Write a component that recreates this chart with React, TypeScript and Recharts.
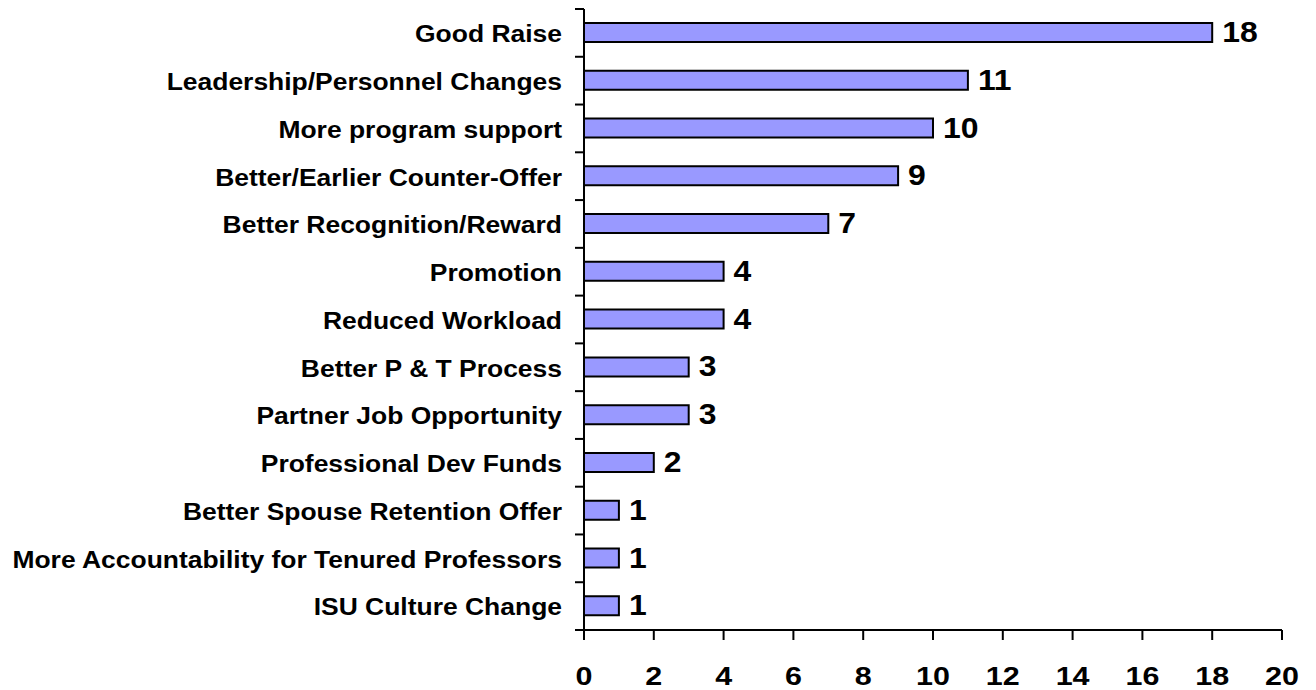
import { BarChart, Bar, XAxis, YAxis, LabelList } from "recharts";

const categories = [
  "Good Raise",
  "Leadership/Personnel Changes",
  "More program support",
  "Better/Earlier Counter-Offer",
  "Better Recognition/Reward",
  "Promotion",
  "Reduced Workload",
  "Better P & T Process",
  "Partner Job Opportunity",
  "Professional Dev Funds",
  "Better Spouse Retention Offer",
  "More Accountability for Tenured Professors",
  "ISU Culture Change",
];

const counts = [18, 11, 10, 9, 7, 4, 4, 3, 3, 2, 1, 1, 1];

const xTicks = [0, 2, 4, 6, 8, 10, 12, 14, 16, 18, 20];

const data = categories.map((name, i) => ({ name, count: counts[i] }));

const W = 1316;
const H = 690;
const M = { top: 9, right: 34, left: 0, bottom: 0 };
const AXIS_W = 584;
const X_AXIS_H = 60;
const PLOT_BOTTOM = H - M.bottom - X_AXIS_H;
const BAND = (PLOT_BOTTOM - M.top) / categories.length;
const FONT = "Arial, 'Liberation Sans', Helvetica, sans-serif";

// the source picture is a little wider than tall, so text gets a small horizontal stretch
const WideText = ({ x, y, size, sx, anchor, dy, children }: any) => (
  <text
    transform={`translate(${x},${y}) scale(${sx},1)`}
    dy={dy}
    textAnchor={anchor}
    fontFamily={FONT}
    fontWeight="bold"
    fontSize={size}
    fill="#000"
  >
    {children}
  </text>
);

const CategoryTick = (props: any) => {
  const { y, payload, index } = props;
  const ax = M.left + AXIS_W;
  return (
    <g>
      <WideText x={ax - 22} y={y} size={24.5} sx={1.08} anchor="end" dy="0.38em">
        {payload.value}
      </WideText>
      {index === 0 && (
        <line x1={ax - 9} x2={ax} y1={y - BAND / 2} y2={y - BAND / 2} stroke="#000" strokeWidth={2} />
      )}
      <line x1={ax - 9} x2={ax} y1={y + BAND / 2} y2={y + BAND / 2} stroke="#000" strokeWidth={2} />
    </g>
  );
};

const ValueTick = (props: any) => {
  const { x, payload } = props;
  return (
    <g>
      <line x1={x} x2={x} y1={PLOT_BOTTOM} y2={PLOT_BOTTOM + 10} stroke="#000" strokeWidth={2} />
      <WideText x={x} y={PLOT_BOTTOM + 55} size={26.5} sx={1.15} anchor="middle" dy={0}>
        {payload.value}
      </WideText>
    </g>
  );
};

const BarValue = (props: any) => {
  const { x, y, width, height, value } = props;
  return (
    <WideText x={x + width + 10} y={y + height / 2} size={29} sx={1.1} anchor="start" dy="0.33em">
      {value}
    </WideText>
  );
};

const App = () => (
  <div style={{ position: "absolute", left: 0, top: 0, width: W, height: H }}>
    <BarChart width={W} height={H} data={data} layout="vertical" margin={M} barSize={19}>
      <XAxis
        type="number"
        domain={[0, 20]}
        ticks={xTicks}
        interval={0}
        height={X_AXIS_H}
        axisLine={{ stroke: "#000", strokeWidth: 2 }}
        tickLine={false}
        tick={<ValueTick />}
      />
      <XAxis
        xAxisId="top"
        orientation="top"
        type="number"
        domain={[0, 20]}
        height={0}
        tick={false}
        tickLine={false}
        axisLine={{ stroke: "#808080", strokeWidth: 2 }}
      />
      <YAxis
        type="category"
        dataKey="name"
        width={AXIS_W}
        interval={0}
        axisLine={{ stroke: "#000", strokeWidth: 2 }}
        tickLine={false}
        tick={<CategoryTick />}
      />
      <YAxis
        yAxisId="right"
        orientation="right"
        type="category"
        dataKey="name"
        width={0}
        tick={false}
        tickLine={false}
        axisLine={{ stroke: "#808080", strokeWidth: 2 }}
      />
      <Bar dataKey="count" fill="#9999FF" stroke="#000" strokeWidth={2} isAnimationActive={false}>
        <LabelList dataKey="count" content={<BarValue />} />
      </Bar>
    </BarChart>
  </div>
);

export default App;
